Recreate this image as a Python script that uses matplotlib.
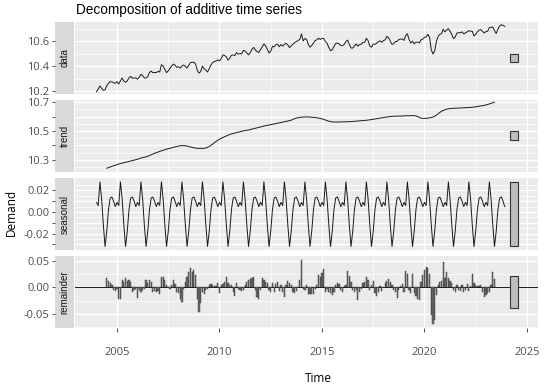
import numpy as np
import matplotlib
matplotlib.use("Agg")
import matplotlib.pyplot as plt
from matplotlib.patches import Rectangle

plt.rcParams['font.family'] = ['Open Sans', 'DejaVu Sans']

# monthly series, Jan 2004 - Dec 2023
START_YEAR = 2004
N_MONTHS = 240

# seasonal component, Jan..Dec
seasonal_month = [0.009, 0.006, 0.028, 0.012, -0.012, -0.032,
                  -0.018, 0.002, 0.013, 0.014, 0.010, 0.005]

# trend, Jul 2004 - Jun 2023 (one row = Jul..Jun)
trend = [
    10.243, 10.247, 10.252, 10.256, 10.260, 10.264, 10.268, 10.272, 10.275, 10.278, 10.281, 10.284,
    10.287, 10.290, 10.293, 10.296, 10.299, 10.302, 10.305, 10.309, 10.313, 10.316, 10.319, 10.322,
    10.326, 10.331, 10.336, 10.341, 10.346, 10.351, 10.355, 10.359, 10.363, 10.367, 10.371, 10.375,
    10.378, 10.381, 10.384, 10.387, 10.390, 10.393, 10.396, 10.398, 10.399, 10.399, 10.398, 10.396,
    10.393, 10.390, 10.387, 10.384, 10.382, 10.381, 10.380, 10.380, 10.380, 10.381, 10.383, 10.387,
    10.393, 10.401, 10.410, 10.419, 10.428, 10.436, 10.443, 10.449, 10.455, 10.461, 10.466, 10.471,
    10.476, 10.480, 10.483, 10.486, 10.489, 10.492, 10.495, 10.498, 10.501, 10.503, 10.505, 10.507,
    10.510, 10.513, 10.516, 10.519, 10.522, 10.525, 10.528, 10.531, 10.534, 10.537, 10.539, 10.541,
    10.544, 10.546, 10.549, 10.551, 10.554, 10.556, 10.559, 10.561, 10.564, 10.566, 10.569, 10.571,
    10.575, 10.580, 10.585, 10.589, 10.592, 10.594, 10.595, 10.596, 10.597, 10.597, 10.597, 10.596,
    10.595, 10.594, 10.593, 10.591, 10.589, 10.587, 10.584, 10.580, 10.576, 10.572, 10.568, 10.565,
    10.563, 10.562, 10.562, 10.562, 10.562, 10.563, 10.563, 10.563, 10.564, 10.564, 10.564, 10.565,
    10.566, 10.567, 10.568, 10.569, 10.570, 10.571, 10.572, 10.573, 10.574, 10.576, 10.577, 10.579,
    10.581, 10.583, 10.585, 10.587, 10.589, 10.591, 10.593, 10.595, 10.597, 10.598, 10.600, 10.601,
    10.602, 10.602, 10.603, 10.603, 10.603, 10.604, 10.604, 10.605, 10.605, 10.605, 10.606, 10.606,
    10.606, 10.604, 10.600, 10.594, 10.589, 10.587, 10.587, 10.588, 10.589, 10.591, 10.593, 10.596,
    10.602, 10.610, 10.619, 10.628, 10.636, 10.642, 10.647, 10.651, 10.653, 10.655, 10.656, 10.657,
    10.657, 10.658, 10.658, 10.659, 10.659, 10.660, 10.661, 10.661, 10.662, 10.663, 10.664, 10.665,
    10.667, 10.669, 10.671, 10.673, 10.675, 10.677, 10.680, 10.683, 10.687, 10.691, 10.695, 10.699,
]

# remainder, Jul 2004 - Jun 2023
remainder = [
    0.017, 0.013, 0.009, 0.004, -0.004, -0.007, -0.002, -0.022, -0.022, 0.014, 0.011, 0.017,
    0.012, 0.014, 0.011, -0.008, -0.005, -0.002, -0.019, -0.005, -0.008, -0.005, -0.002, 0.014,
    0.008, 0.014, 0.011, -0.009, -0.007, -0.009, -0.007, -0.013, 0.020, 0.020, 0.014, 0.004,
    0.001, -0.002, 0.004, 0.014, 0.006, -0.009, -0.011, -0.021, -0.027, -0.003, 0.011, 0.020,
    0.030, 0.036, 0.030, 0.033, 0.023, -0.021, -0.046, -0.030, -0.009, -0.013, -0.005, -0.003,
    0.004, 0.006, 0.004, 0.003, 0.002, 0.008, -0.011, 0.004, 0.006, 0.011, 0.020, 0.008,
    0.004, 0.004, -0.008, -0.016, 0.008, -0.002, -0.005, -0.007, -0.004, 0.004, 0.011, 0.014,
    0.016, 0.018, 0.020, -0.005, -0.018, -0.021, -0.005, 0.017, 0.014, 0.011, 0.008, -0.005,
    -0.008, 0.008, -0.008, 0.006, 0.011, -0.007, 0.004, -0.008, -0.018, 0.004, 0.012, 0.008,
    0.005, -0.008, -0.011, -0.007, 0.001, 0.014, 0.052, -0.002, -0.005, 0.004, -0.013, -0.013,
    -0.013, -0.013, -0.002, 0.004, 0.023, 0.020, 0.028, 0.034, -0.008, -0.002, -0.008, -0.011,
    -0.014, -0.009, 0.004, 0.008, 0.006, -0.005, -0.009, 0.003, 0.004, 0.031, 0.022, 0.011,
    -0.005, -0.009, -0.005, -0.024, -0.008, -0.002, 0.008, 0.011, 0.020, 0.014, -0.005, 0.004,
    0.012, -0.011, -0.016, -0.008, 0.003, -0.007, 0.001, 0.008, 0.012, 0.016, 0.011, 0.004,
    -0.005, -0.008, -0.020, -0.005, 0.003, 0.006, -0.008, 0.031, 0.025, -0.005, -0.011, 0.025,
    -0.011, -0.016, -0.021, -0.024, 0.011, 0.023, 0.033, 0.039, 0.037, 0.026, -0.052, -0.068,
    -0.062, -0.014, 0.004, 0.011, 0.012, 0.048, 0.017, 0.030, 0.018, 0.012, 0.008, -0.005,
    -0.008, 0.004, -0.005, -0.007, 0.004, -0.008, -0.005, 0.006, -0.007, 0.003, 0.026, 0.008,
    0.004, 0.003, 0.003, 0.004, -0.008, -0.018, -0.014, -0.011, -0.008, 0.004, 0.030, 0.016,
]

# observed values where the trend is not defined
data_head = [10.195, 10.215, 10.240, 10.222, 10.205, 10.210]   # Jan-Jun 2004
data_tail = [10.660, 10.695, 10.720, 10.730, 10.725, 10.717]   # Jul-Dec 2023

panel_names = ["data", "trend", "seasonal", "remainder"]

t_all = START_YEAR + np.arange(N_MONTHS) / 12
t_mid = t_all[6:N_MONTHS - 6]
seasonal = np.tile(seasonal_month, N_MONTHS // 12)
trend = np.array(trend)
remainder = np.array(remainder)
data = np.concatenate([data_head, trend + seasonal[6:N_MONTHS - 6] + remainder, data_tail])

# ---- layout (pixel boxes of the 550x392 reference) ----
W, H = 550, 392


def box(x0, y0, x1, y1):
    return [x0 / W, 1 - y1 / H, (x1 - x0) / W, (y1 - y0) / H]


rows = [(22, 94), (100, 172), (178, 250), (256, 328)]
ylims = [(10.176, 10.752), (10.217, 10.714), (-0.0353, 0.0316), (-0.0764, 0.0594)]
yticks = [
    ([10.2, 10.4, 10.6], ["10.2", "10.4", "10.6"]),
    ([10.3, 10.4, 10.5, 10.6, 10.7], ["10.3", "", "10.5", "", "10.7"]),
    ([-0.03, -0.02, -0.01, 0.0, 0.01, 0.02], ["", "-0.02", "", "0.00", "", "0.02"]),
    ([-0.05, 0.0, 0.05], ["-0.05", "0.00", "0.05"]),
]
ygrid_minor = [
    [10.3, 10.5, 10.7],
    [10.25, 10.35, 10.45, 10.55, 10.65],
    [-0.025, -0.015, -0.005, 0.005, 0.015, 0.025],
    [-0.075, -0.025, 0.025],
]
xlim = (2002.95, 2025.54)
xmajor = [2005, 2010, 2015, 2020, 2025]
xminor = [2007.5, 2012.5, 2017.5, 2022.5]

fig = plt.figure(figsize=(5.5, 3.92), dpi=100)

series = [data, trend, seasonal, remainder]
times = [t_all, t_mid, t_all, t_mid]
bar_h = max(seasonal_month) - min(seasonal_month)
bar_x, bar_w = 2024.37, 0.4

for i, (top, bot) in enumerate(rows):
    ax = fig.add_axes(box(75, top, 538, bot))
    ax.set_facecolor("#EBEBEB")
    for s in ax.spines.values():
        s.set_visible(False)
    ax.set_xlim(*xlim)
    ax.set_ylim(*ylims[i])
    ax.set_yticks(yticks[i][0])
    ax.set_yticks(ygrid_minor[i], minor=True)
    ax.set_xticks(xmajor)
    ax.set_xticks(xminor, minor=True)
    ax.grid(which="major", color="white", lw=1.0)
    ax.grid(which="minor", color="white", lw=0.5)
    ax.set_axisbelow(True)
    ax.tick_params(axis="y", which="both", left=False, labelleft=False)
    ax.tick_params(axis="x", which="minor", bottom=False)
    if i < 3:
        ax.tick_params(axis="x", which="major", bottom=False, labelbottom=False)
    else:
        ax.tick_params(axis="x", which="major", length=3, width=0.6, color="#333333",
                       labelsize=8, labelcolor="#4D4D4D", pad=11)

    y = series[i]
    if i == 3:
        ax.axhline(0, color="#1A1A1A", lw=0.7, zorder=2)
        ax.bar(times[i], y, width=0.06, color="#6E6E6E", edgecolor="#333333", lw=0.3, zorder=3)
    else:
        ax.plot(times[i], y, color="#1A1A1A", lw=0.7)

    mid = (np.nanmax(y) + np.nanmin(y)) / 2
    ax.add_patch(Rectangle((bar_x - bar_w / 2, mid - bar_h / 2), bar_w, bar_h,
                           facecolor="#BEBEBE", edgecolor="#333333", lw=0.8, zorder=4))

    # strip on the left carries the y axis
    sax = fig.add_axes(box(55, top, 74, bot))
    sax.set_facecolor("#D9D9D9")
    for s in sax.spines.values():
        s.set_visible(False)
    sax.set_ylim(*ylims[i])
    sax.set_xticks([])
    sax.set_yticks(yticks[i][0], labels=yticks[i][1])
    sax.tick_params(axis="y", length=2.5, width=0.6, color="#333333",
                    labelsize=8, labelcolor="#4D4D4D", pad=1.5)
    sax.text(0.5, 0.5, panel_names[i], transform=sax.transAxes, rotation=90,
             ha="center", va="center", fontsize=7, color="#1A1A1A",
             family=["Liberation Sans", "DejaVu Sans"])

fig.text(76 / W, 1 - 14 / H, "Decomposition of additive time series",
         fontsize=9.8, color="black", va="baseline", ha="left",
         family=["Liberation Sans", "DejaVu Sans"])
fig.text(318 / W, 1 - 378 / H, "Time", fontsize=8.5, ha="center", va="center")
fig.text(11 / W, 1 - 212 / H, "Demand", fontsize=8.5, rotation=90, ha="center", va="center")

fig.savefig("out.png", dpi=100)
